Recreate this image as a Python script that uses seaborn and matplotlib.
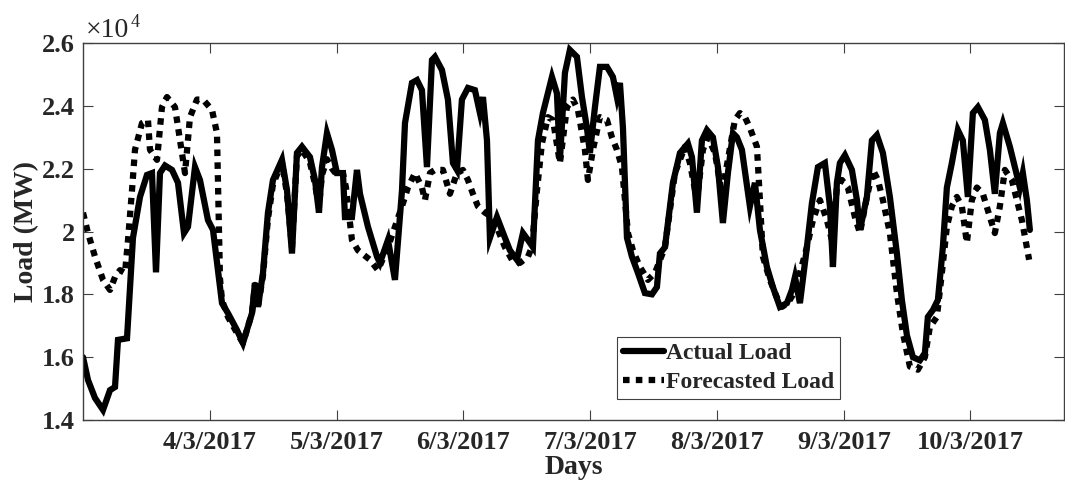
import numpy as np
import pandas as pd
import matplotlib
matplotlib.use("Agg")
import matplotlib.pyplot as plt
import matplotlib.dates as mdates
from matplotlib.ticker import FuncFormatter
import seaborn as sns

# Hour offsets from 3/3/2017 00:00 and load in units of 1e4 MW
actual_hours = [
    0.0, 0.95, 2.27, 3.79, 5.11, 6.06, 6.62, 8.33, 9.46, 10.79,
    12.11, 13.06, 13.82, 14.57, 15.52, 16.85, 17.98, 19.12, 19.87, 21.20,
    22.14, 23.66, 24.61, 26.31, 27.44, 29.15, 30.28, 31.99, 32.55, 33.12,
    34.07, 35.01, 35.96, 37.66, 38.61, 39.56, 40.50, 41.45, 42.96, 43.91,
    44.67, 45.24, 46.18, 47.13, 48.07, 49.21, 49.59, 50.91, 51.86, 52.43,
    53.94, 55.65, 56.21, 57.73, 59.05, 60.38, 60.95, 62.27, 63.22, 64.16,
    65.11, 66.06, 66.62, 67.95, 69.08, 70.03, 70.79, 71.73, 72.87, 74.19,
    75.14, 75.71, 76.47, 77.03, 78.36, 79.87, 80.82, 82.14, 83.28, 84.23,
    85.17, 86.12, 87.06, 88.77, 89.71, 90.28, 91.23, 92.17, 93.50, 94.45,
    95.39, 95.96, 96.91, 97.85, 99.18, 100.31, 101.07, 101.64, 102.21, 102.97,
    103.91, 105.05, 106.37, 107.70, 108.64, 109.21, 110.16, 111.67, 113.00, 114.51,
    115.27, 116.21, 117.16, 118.10, 119.24, 120.19, 121.13, 122.08, 123.03, 123.78,
    124.73, 126.24, 127.19, 128.14, 129.46, 130.60, 131.92, 133.25, 134.20, 134.77,
    135.71, 137.03, 137.98, 139.12, 140.44, 141.39, 141.96, 142.71, 143.28, 144.23,
    145.55, 146.50, 147.07, 148.39, 149.34, 150.28, 151.42, 152.74, 154.07, 155.01,
    155.96, 157.10, 158.42, 159.37, 159.93, 160.88, 161.83, 162.77, 163.53, 164.47,
    165.61, 166.55, 167.50, 168.45, 169.40, 170.72, 171.67, 172.61, 173.56, 174.13,
    175.45, 176.40, 177.35, 177.91, 178.67, 179.24,
]
actual_load = [
    1.600, 1.527, 1.470, 1.432, 1.495, 1.505, 1.655, 1.660, 1.980, 2.110,
    2.180, 2.186, 1.870, 2.186, 2.210, 2.196, 2.155, 1.995, 2.015, 2.205,
    2.164, 2.036, 2.005, 1.772, 1.740, 1.686, 1.645, 1.740, 1.836, 1.760,
    1.868, 2.060, 2.164, 2.228, 2.132, 1.930, 2.250, 2.270, 2.237, 2.164,
    2.060, 2.205, 2.313, 2.260, 2.186, 2.186, 2.046, 2.046, 2.196, 2.120,
    2.015, 1.920, 1.900, 1.973, 1.846, 2.130, 2.345, 2.473, 2.482, 2.450,
    2.205, 2.546, 2.556, 2.514, 2.420, 2.218, 2.196, 2.420, 2.457, 2.450,
    2.377, 2.428, 2.290, 1.980, 2.046, 1.980, 1.940, 1.910, 1.995, 1.973,
    1.950, 2.290, 2.377, 2.492, 2.440, 2.228, 2.505, 2.578, 2.556, 2.428,
    2.330, 2.250, 2.396, 2.524, 2.524, 2.492, 2.428, 2.473, 2.330, 1.980,
    1.920, 1.868, 1.804, 1.800, 1.823, 1.930, 1.950, 2.155, 2.250, 2.280,
    2.237, 2.060, 2.290, 2.323, 2.300, 2.205, 2.027, 2.186, 2.313, 2.300,
    2.260, 2.080, 2.155, 2.005, 1.887, 1.823, 1.760, 1.772, 1.814, 1.855,
    1.772, 1.950, 2.090, 2.205, 2.218, 2.080, 1.887, 2.155, 2.218, 2.243,
    2.196, 2.100, 2.005, 2.110, 2.290, 2.307, 2.250, 2.110, 1.930, 1.782,
    1.670, 1.600, 1.590, 1.613, 1.728, 1.750, 1.782, 1.950, 2.140, 2.218,
    2.323, 2.290, 2.110, 2.377, 2.396, 2.355, 2.260, 2.120, 2.313, 2.345,
    2.270, 2.205, 2.140, 2.186, 2.100, 2.005,
]

forecast_hours = [
    0.0, 0.95, 2.27, 3.79, 5.11, 6.06, 7.00, 7.95, 8.52, 9.27,
    9.84, 11.17, 12.30, 12.68, 14.01, 14.95, 15.90, 17.41, 18.36, 19.31,
    20.25, 21.58, 22.71, 24.42, 25.36, 25.93, 26.31, 27.44, 29.15, 30.28,
    31.99, 32.55, 33.12, 34.07, 35.01, 35.96, 37.66, 38.61, 39.56, 40.50,
    41.45, 42.96, 43.91, 44.67, 45.24, 46.18, 47.13, 48.07, 49.21, 49.78,
    50.91, 52.05, 54.32, 55.83, 57.73, 60.38, 61.51, 62.84, 64.16, 64.73,
    65.68, 66.62, 68.13, 69.46, 70.79, 71.92, 72.87, 73.81, 74.76, 76.09,
    77.41, 78.55, 79.87, 81.20, 82.71, 84.23, 84.98, 85.93, 86.87, 88.01,
    88.96, 90.28, 91.61, 92.74, 93.69, 95.01, 95.58, 96.53, 97.85, 99.18,
    100.12, 101.07, 102.02, 102.59, 103.16, 104.10, 105.43, 106.94, 108.27, 110.16,
    112.05, 113.94, 114.89, 116.21, 117.35, 118.29, 119.62, 120.94, 122.08, 123.40,
    124.35, 125.30, 126.24, 127.57, 128.14, 128.70, 130.03, 131.35, 132.30, 133.44,
    134.77, 135.71, 137.03, 138.17, 139.49, 140.82, 141.76, 142.71, 143.66, 144.79,
    146.12, 147.07, 148.39, 149.53, 150.47, 151.42, 152.74, 154.07, 155.20, 156.53,
    158.04, 159.37, 160.31, 161.64, 162.58, 163.53, 164.47, 165.42, 166.37, 167.31,
    168.26, 169.21, 170.34, 171.67, 172.61, 173.56, 174.51, 175.83, 176.78, 177.73,
    178.67, 179.10,
]
forecast_load = [
    2.060, 1.995, 1.920, 1.846, 1.814, 1.855, 1.877, 1.868, 1.973, 2.130,
    2.260, 2.345, 2.355, 2.260, 2.228, 2.396, 2.428, 2.396, 2.290, 2.186,
    2.364, 2.420, 2.420, 2.387, 2.313, 1.850, 1.782, 1.728, 1.677, 1.645,
    1.740, 1.830, 1.760, 1.860, 2.040, 2.150, 2.220, 2.120, 1.950, 2.240,
    2.260, 2.220, 2.150, 2.080, 2.180, 2.230, 2.200, 2.180, 2.186, 2.140,
    1.973, 1.940, 1.910, 1.877, 1.950, 2.080, 2.140, 2.186, 2.140, 2.100,
    2.186, 2.196, 2.196, 2.120, 2.186, 2.196, 2.164, 2.120, 2.080, 2.060,
    2.046, 2.005, 1.950, 1.910, 1.900, 1.920, 1.950, 2.130, 2.280, 2.364,
    2.355, 2.218, 2.396, 2.420, 2.387, 2.260, 2.164, 2.260, 2.364, 2.355,
    2.300, 2.260, 2.205, 2.100, 1.995, 1.940, 1.887, 1.846, 1.868, 1.950,
    2.186, 2.270, 2.218, 2.100, 2.260, 2.300, 2.250, 2.120, 2.228, 2.355,
    2.377, 2.364, 2.330, 2.270, 2.100, 1.920, 1.846, 1.790, 1.760, 1.772,
    1.810, 1.868, 1.950, 2.036, 2.100, 2.036, 1.973, 2.140, 2.164, 2.140,
    2.046, 1.995, 2.110, 2.196, 2.164, 2.100, 1.995, 1.804, 1.677, 1.570,
    1.560, 1.600, 1.696, 1.728, 1.868, 2.015, 2.080, 2.110, 2.080, 1.964,
    2.100, 2.140, 2.120, 2.046, 1.995, 2.080, 2.196, 2.164, 2.100, 2.036,
    1.950, 1.910,
]

tick_dates = pd.date_range("2017-03-04", "2017-03-10", freq="D")
tick_labels = [f"{d.day}/{d.month}/{d.year}" for d in tick_dates]
y_ticks = [14000, 16000, 18000, 20000, 22000, 24000, 26000]

start = pd.Timestamp("2017-03-03")
end = start + pd.Timedelta(hours=185.7)

assert len(actual_hours) == len(actual_load)
assert len(forecast_hours) == len(forecast_load)

df_actual = pd.DataFrame({
    "time": start + pd.to_timedelta(actual_hours, unit="h"),
    "load": np.array(actual_load) * 1e4,
})
df_forecast = pd.DataFrame({
    "time": start + pd.to_timedelta(forecast_hours, unit="h"),
    "load": np.array(forecast_load) * 1e4,
})

sns.set_theme(style="white")
plt.rcParams["font.family"] = ["Liberation Serif", "DejaVu Serif"]
plt.rcParams["font.weight"] = "bold"

fig = plt.figure(figsize=(10.65, 4.94), dpi=100)
ax = fig.add_axes([83 / 1065, 1 - 420 / 494, (1064 - 83) / 1065, (420 - 43) / 494])

sns.lineplot(data=df_actual, x="time", y="load", ax=ax, color="black",
             linewidth=4.5, estimator=None, label="Actual Load")
ax.lines[-1].set_solid_joinstyle("miter")
sns.lineplot(data=df_forecast, x="time", y="load", ax=ax, color="black",
             linewidth=4.5, estimator=None, label="Forecasted Load")
ax.lines[-1].set_dashes((1.05, 1.0))

ax.set_xlim(mdates.date2num(start.to_pydatetime()), mdates.date2num(end.to_pydatetime()))
ax.set_ylim(14000, 26000)
ax.set_xticks(mdates.date2num(tick_dates.to_pydatetime()))
ax.set_xticklabels(tick_labels)
ax.set_yticks(y_ticks)
ax.yaxis.set_major_formatter(FuncFormatter(lambda v, _: f"{v / 1e4:g}"))

spine_color = "#404040"
for s in ax.spines.values():
    s.set_color(spine_color)
    s.set_linewidth(1.0)
    s.set_visible(True)

ax.tick_params(axis="both", which="major", direction="in", length=7, width=0.8,
               color=spine_color, labelsize=19, labelcolor="#262626",
               top=True, right=True, bottom=True, left=True)
ax.tick_params(axis="x", pad=8)
ax.tick_params(axis="y", pad=6)
for lbl in ax.get_xticklabels() + ax.get_yticklabels():
    lbl.set_fontweight("bold")

ax.set_xlabel("Days", fontsize=20, fontweight="bold", color="#262626")
ax.set_ylabel("Load (MW)", fontsize=20, fontweight="bold", color="#262626")
ax.xaxis.set_label_coords(0.5, -0.092)
ax.yaxis.set_label_coords(-0.045, 0.5)

# exponent marker for the y axis
ax.annotate("\u00d710", xy=(0, 1), xycoords="axes fraction", xytext=(2, 4),
            textcoords="offset points", ha="left", va="baseline",
            fontsize=20, fontweight="normal", color="#262626")
ax.annotate("4", xy=(0, 1), xycoords="axes fraction", xytext=(34, 11.5),
            textcoords="offset points", ha="left", va="baseline",
            fontsize=13, fontweight="normal", color="#262626")

leg = ax.legend(loc="lower left", bbox_to_anchor=(0.544, 0.056), borderaxespad=0,
                frameon=True, fancybox=False, framealpha=1, edgecolor=spine_color,
                prop={"family": "Liberation Serif", "weight": "bold", "size": 17},
                borderpad=0.25, handlelength=1.75, handletextpad=0.1, labelspacing=0.3)
leg.get_frame().set_linewidth(0.8)

fig.savefig("out.png", dpi=100)
